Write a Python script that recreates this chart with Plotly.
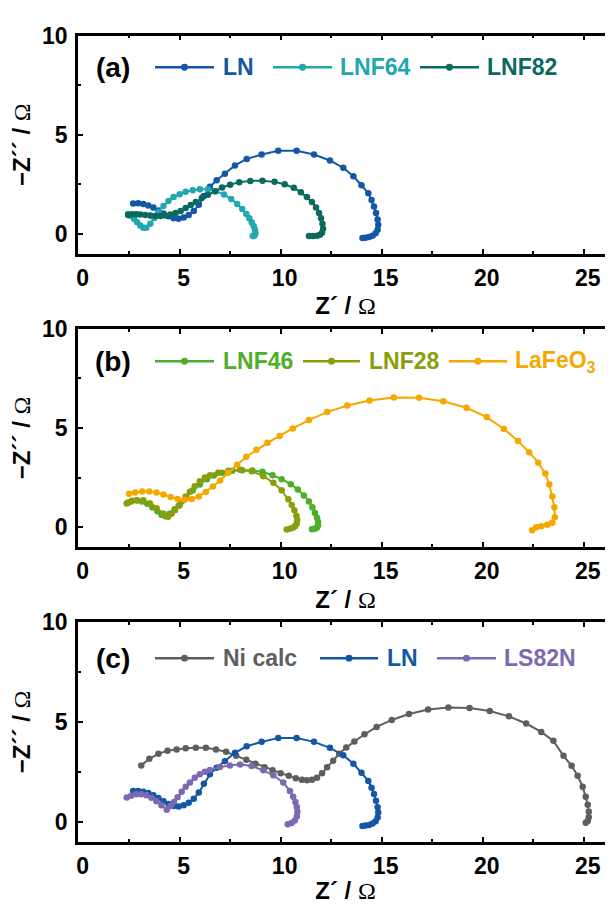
import plotly.graph_objects as go

# ---------------- data ----------------
LN_x = [2.7, 2.95, 3.2, 3.45, 3.7, 3.95, 4.2, 4.45, 4.7, 4.95, 5.2, 5.45, 5.7, 5.95, 6.2, 6.5, 6.83, 7.24, 7.74, 8.32,
        9.06, 9.88, 10.79, 11.65, 12.44, 13.1, 13.6, 14.0, 14.34, 14.5, 14.62, 14.72, 14.8, 14.83, 14.8, 14.7, 14.55, 14.38, 14.2, 14.05]
LN_y = [1.53, 1.54, 1.5, 1.43, 1.32, 1.18, 1.02, 0.88, 0.78, 0.76, 0.82, 0.95, 1.15, 1.46, 1.9, 2.37, 2.7, 3.03, 3.45, 3.78,
        4.0, 4.19, 4.19, 4.0, 3.7, 3.33, 2.9, 2.45, 2.04, 1.7, 1.38, 1.05, 0.72, 0.45, 0.2, 0.02, -0.1, -0.17, -0.2, -0.22]

LNF64_x = [2.45, 2.6, 2.75, 2.9, 3.05, 3.2, 3.35, 3.55, 3.75, 3.95, 4.2, 4.45, 4.7, 5.0, 5.3, 5.65, 6.0, 6.4, 6.8, 7.2,
           7.55, 7.85, 8.1, 8.3, 8.45, 8.57, 8.67, 8.73, 8.75, 8.73, 8.68, 8.62]
LNF64_y = [1.0, 0.9, 0.75, 0.58, 0.42, 0.3, 0.3, 0.5, 0.8, 1.1, 1.4, 1.65, 1.85, 2.0, 2.12, 2.2, 2.25, 2.25, 2.15, 1.98,
           1.75, 1.5, 1.25, 1.0, 0.78, 0.57, 0.38, 0.2, 0.05, -0.05, -0.1, -0.12]

LNF82_x = [2.45, 2.65, 2.85, 3.05, 3.3, 3.55, 3.8, 4.05, 4.3, 4.55, 4.8, 5.05, 5.3, 5.55, 5.8, 6.1, 6.4, 6.75, 7.1, 7.5,
           7.95, 8.5, 9.1, 9.7, 10.2, 10.65, 11.0, 11.3, 11.55, 11.75, 11.9, 12.0, 12.07, 12.1, 12.05, 11.95, 11.8, 11.6, 11.4]
LNF82_y = [0.95, 0.98, 0.98, 0.97, 0.95, 0.92, 0.9, 0.9, 0.92, 0.97, 1.05, 1.15, 1.3, 1.45, 1.6, 1.8, 1.97, 2.15, 2.33, 2.48,
           2.6, 2.67, 2.68, 2.62, 2.5, 2.32, 2.1, 1.85, 1.6, 1.33, 1.05, 0.78, 0.5, 0.25, 0.05, -0.05, -0.1, -0.12, -0.12]

LNF46_x = [2.45, 2.65, 2.9, 3.15, 3.4, 3.65, 3.9, 4.1, 4.3, 4.5, 4.75, 5.0, 5.3, 5.65, 6.0, 6.35, 6.7, 7.1, 7.6, 8.1,
           8.6, 9.1, 9.6, 10.05, 10.5, 10.85, 11.15, 11.4, 11.57, 11.7, 11.8, 11.85, 11.85, 11.8, 11.7, 11.55]
LNF46_y = [1.25, 1.33, 1.35, 1.3, 1.18, 1.0, 0.8, 0.63, 0.55, 0.68, 0.9, 1.1, 1.45, 1.85, 2.15, 2.42, 2.6, 2.74, 2.84, 2.87,
           2.86, 2.79, 2.62, 2.42, 2.17, 1.9, 1.6, 1.3, 1.0, 0.72, 0.48, 0.27, 0.1, -0.02, -0.08, -0.1]

LNF28_x = [2.38, 2.6, 2.87, 3.2, 3.53, 3.86, 4.19, 4.43, 4.6, 4.77, 4.95, 5.1, 5.3, 5.51, 5.75, 6.0, 6.25, 6.5, 6.91, 7.41,
           7.99, 8.57, 9.14, 9.64, 10.05, 10.38, 10.55, 10.68, 10.78, 10.82, 10.79, 10.71, 10.6, 10.46, 10.3]
LNF28_y = [1.19, 1.3, 1.36, 1.36, 1.19, 0.96, 0.69, 0.53, 0.68, 0.86, 1.08, 1.29, 1.55, 1.79, 2.06, 2.32, 2.5, 2.62, 2.74, 2.85,
           2.9, 2.82, 2.57, 2.24, 1.86, 1.41, 1.12, 0.85, 0.58, 0.36, 0.18, 0.05, -0.03, -0.08, -0.12]

LaFeO3_x = [2.5, 2.8, 3.15, 3.5, 3.85, 4.2, 4.55, 4.9, 5.25, 5.6, 5.95, 6.3, 6.65, 7.0, 7.4, 7.85, 8.3, 8.8, 9.35, 9.95,
            10.6, 11.4, 12.3, 13.3, 14.4, 15.6, 16.85, 18.05, 19.2, 20.2, 21.05, 21.75, 22.3, 22.75, 23.1, 23.3, 23.45, 23.55,
            23.57, 23.45, 23.2, 22.9, 22.65, 22.45]
LaFeO3_y = [1.68, 1.75, 1.8, 1.8, 1.75, 1.65, 1.52, 1.42, 1.38, 1.42, 1.55, 1.78, 2.05, 2.35, 2.75, 3.15, 3.55, 3.9, 4.25, 4.6,
            4.98, 5.4, 5.8, 6.13, 6.38, 6.53, 6.52, 6.35, 6.02, 5.55, 4.95, 4.35, 3.78, 3.25, 2.7, 2.15, 1.55, 1.0,
            0.5, 0.22, 0.12, 0.05, 0.0, -0.15]

NiCalc_x = [3.1, 3.5, 3.95, 4.4, 4.85, 5.3, 5.8, 6.3, 6.8, 7.3, 7.8, 8.3, 8.75, 9.2, 9.6, 10.0, 10.4, 10.75, 11.05, 11.3,
            11.55, 11.8, 12.05, 12.3, 12.6, 12.9, 13.25, 13.65, 14.15, 14.75, 15.5, 16.35, 17.3, 18.3, 19.35, 20.35, 21.3,
            22.15, 22.9, 23.5, 24.0, 24.4, 24.7, 24.95, 25.1, 25.2, 25.25, 25.25, 25.2, 25.1]
NiCalc_y = [2.82, 3.15, 3.4, 3.55, 3.62, 3.68, 3.7, 3.7, 3.62, 3.5, 3.3, 3.1, 2.9, 2.72, 2.57, 2.43, 2.3, 2.18, 2.1, 2.07,
            2.1, 2.2, 2.42, 2.72, 3.05, 3.4, 3.72, 4.02, 4.38, 4.75, 5.1, 5.4, 5.62, 5.72, 5.7, 5.55, 5.28,
            4.92, 4.5, 4.05, 3.3, 2.8, 2.3, 1.75, 1.25, 0.85, 0.5, 0.22, 0.03, -0.06]

LS82N_x = [2.38, 2.6, 2.85, 3.1, 3.35, 3.6, 3.85, 4.1, 4.36, 4.55, 4.72, 4.9, 5.1, 5.3, 5.51, 5.75, 6.0, 6.25, 6.5, 6.99,
           7.49, 7.99, 8.56, 9.14, 9.64, 10.13, 10.46, 10.62, 10.73, 10.8, 10.83, 10.8, 10.7, 10.54, 10.35]
LS82N_y = [1.21, 1.3, 1.37, 1.37, 1.32, 1.2, 1.02, 0.82, 0.6, 0.78, 0.98, 1.22, 1.5, 1.75, 1.96, 2.2, 2.37, 2.5, 2.59, 2.74,
           2.82, 2.87, 2.79, 2.57, 2.32, 1.96, 1.54, 1.25, 0.98, 0.73, 0.5, 0.25, 0.05, -0.07, -0.13]

x_ticks = [0, 5, 10, 15, 20, 25]
y_ticks = [0, 5, 10]

C = {
    "LN": "#1357a6", "LNF64": "#22a7ae", "LNF82": "#0b6a60",
    "LNF46": "#4daf2a", "LNF28": "#8a9e0c", "LaFeO3": "#f6a800",
    "Ni calc": "#5e5e5e", "LS82N": "#7d69b2",
}

panels = [
    ("(a)", [("LN", "LN", LN_x, LN_y), ("LNF64", "LNF64", LNF64_x, LNF64_y), ("LNF82", "LNF82", LNF82_x, LNF82_y)]),
    ("(b)", [("LNF46", "LNF46", LNF46_x, LNF46_y), ("LNF28", "LNF28", LNF28_x, LNF28_y),
             ("LaFeO3", "LaFeO<sub>3</sub>", LaFeO3_x, LaFeO3_y)]),
    ("(c)", [("Ni calc", "Ni calc", NiCalc_x, NiCalc_y), ("LN", "LN", LN_x, LN_y), ("LS82N", "LS82N", LS82N_x, LS82N_y)]),
]

# ---------------- layout geometry (page pixels; the page body adds an 8px offset) ----------------
OFF = 8
W, H = 613 - OFF, 904 - OFF
L = 78 - OFF
panel_px = [(23, 244.5), (321, 543), (619.5, 842.5)]  # top, bottom of each plot area (page px)
legend_px = [
    (55, 113, [(155, 214, 221), (273, 332, 338), (420, 479, 485)]),
    (354, 113, [(155, 214, 221), (303, 360, 367), (449, 507, 513)]),
    (656, 113, [(155, 214, 221), (320, 378, 385), (437, 496, 502)]),
]

def fx(px):
    return (px - OFF - L) / (W - L)

def fy(py):
    return 1 - (py - OFF) / H

FONT = "Liberation Sans, Arial, sans-serif"
OMEGA = "<span style=\"font-family:'Liberation Serif';font-weight:normal\">Ω</span>"
fig = go.Figure()
shapes, annotations = [], []

for i, (tag, series) in enumerate(panels):
    ax = "" if i == 0 else str(i + 1)
    for key, label, xs, ys in series:
        fig.add_trace(go.Scatter(
            x=xs, y=ys, name=key, mode="lines+markers", showlegend=False,
            line=dict(color=C[key], width=2), marker=dict(color=C[key], size=6.5),
            xaxis="x" + ax, yaxis="y" + ax,
        ))
    top, bot = panel_px[i]
    common = dict(showline=True, linecolor="black", linewidth=2.5, ticks="inside", tickwidth=2,
                  tickcolor="black", ticklen=5, showgrid=False, zeroline=False,
                  tickfont=dict(family=FONT, size=23, color="black", weight="bold"))
    fig.update_layout(**{
        "xaxis" + ax: dict(common, domain=[0, 1], anchor="y" + ax, range=[-0.03, 26.45],
                           tickvals=x_ticks, mirror="ticks", ticklabelshift=4, ticklabelstandoff=2,
                           minor=dict(dtick=2.5, ticks="inside", ticklen=3, tickwidth=2, tickcolor="black"),
                           title=dict(text="Z´ / " + OMEGA,
                                      font=dict(family=FONT, size=24, color="black", weight="bold"), standoff=8)),
        "yaxis" + ax: dict(common, domain=[fy(bot), fy(top)], anchor="x" + ax, range=[-1.0, 10],
                           tickvals=y_ticks, mirror=False, ticklabelstandoff=3,
                           minor=dict(dtick=2.5, ticks="inside", ticklen=3, tickwidth=2, tickcolor="black"),
                           title=dict(text="−Z´´ / " + OMEGA,
                                      font=dict(family=FONT, size=24, color="black", weight="bold"), standoff=5)),
    })
    ly, tagx, items = legend_px[i]
    annotations.append(dict(text=tag, x=fx(tagx), y=fy(ly), xref="paper", yref="paper", showarrow=False,
                            xanchor="center", yanchor="middle",
                            font=dict(family=FONT, size=28, color="black", weight="bold")))
    for (key, label, xs, ys), (x0, x1, tx) in zip(series, items):
        col = C[key]
        shapes.append(dict(type="line", xref="paper", yref="paper", x0=fx(x0), x1=fx(x1), y0=fy(ly), y1=fy(ly),
                           line=dict(color=col, width=2.5)))
        xm = (x0 + x1) / 2
        shapes.append(dict(type="circle", xref="paper", yref="paper", x0=fx(xm - 3.5), x1=fx(xm + 3.5),
                           y0=fy(ly + 3.5), y1=fy(ly - 3.5), fillcolor=col, line=dict(color=col, width=0)))
        annotations.append(dict(text=label, x=fx(tx), y=fy(ly), xref="paper", yref="paper", showarrow=False,
                                xanchor="left", yanchor="middle",
                                font=dict(family=FONT, size=23, color=col, weight="bold")))

fig.update_layout(
    width=W, height=H, margin=dict(l=L, r=0, t=0, b=0),
    paper_bgcolor="white", plot_bgcolor="white",
    shapes=shapes, annotations=annotations, showlegend=False,
    font=dict(family=FONT, color="black"),
)

fig.write_html("out.html")
